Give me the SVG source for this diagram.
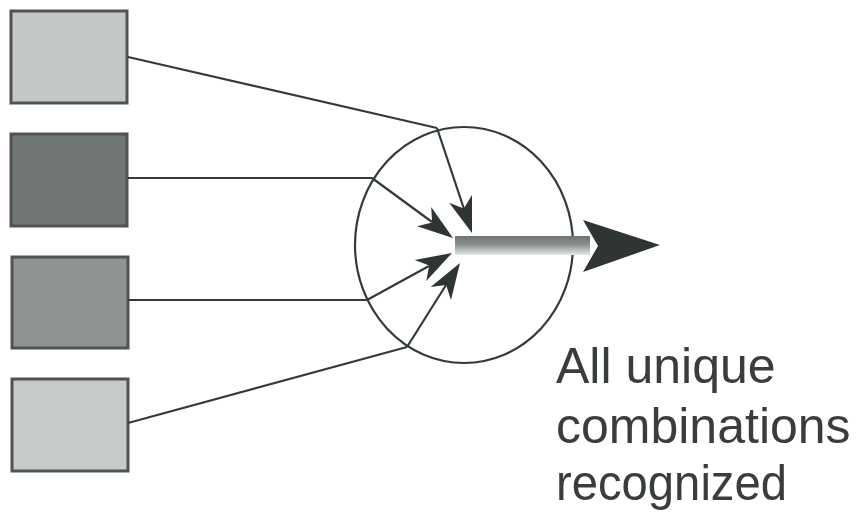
<svg xmlns="http://www.w3.org/2000/svg" width="859" height="514" viewBox="0 0 859 514">
<style>
.box{stroke:#4f5453;stroke-width:3}
.ln{stroke:#333a3a;stroke-width:2.2;fill:none}
.hd{fill:#2e3534}
.lbl{font-family:"Liberation Sans",Arial,sans-serif;font-size:50px;fill:#3a3d3d}
</style>
<defs>
<linearGradient id="shaft" x1="0" y1="0" x2="0" y2="1">
<stop offset="0" stop-color="#6d7371"/>
<stop offset="0.45" stop-color="#8b9190"/>
<stop offset="1" stop-color="#e4e8e8"/>
</linearGradient>
</defs>
<rect width="859" height="514" fill="#ffffff"/>
<g id="box1"><rect class="box" x="11" y="11" width="116" height="92" fill="#c3c7c7"/></g>
<g id="box2"><rect class="box" x="11" y="134" width="116" height="92" fill="#6f7674"/></g>
<g id="box3"><rect class="box" x="12" y="257" width="116" height="91" fill="#8f9393"/></g>
<g id="box4"><rect class="box" x="12" y="379" width="116" height="92" fill="#c6caca"/></g>
<g id="neuron"><ellipse cx="464" cy="245" rx="109" ry="118" fill="none" stroke="#333a3a" stroke-width="2.2"/></g>
<g id="connectors">
<line class="ln" x1="128" y1="57" x2="437" y2="128"/>
<line class="ln" x1="128" y1="178" x2="372" y2="178"/>
<line class="ln" x1="128" y1="300" x2="367" y2="300"/>
<line class="ln" x1="128" y1="423" x2="407" y2="347"/>
<path d="M437,128 L464,209" class="ln"/>
<path d="M472,233 L472,195.1 L463.8,208.4 L449.2,202.7 z" class="hd"/>
<path d="M372,178 L432,222" class="ln"/>
<path d="M453,238 L431.2,207 L432.1,222.5 L417,226.2 z" class="hd"/>
<path d="M367,300 L429,266" class="ln"/>
<path d="M452,253 L414.7,259.9 L429.2,265.6 L426.3,280.9 z" class="hd"/>
<path d="M407,347 L446,285" class="ln"/>
<path d="M460,263 L430.6,287.1 L446.1,285 L451,299.9 z" class="hd"/>
</g>
<g id="output">
<rect x="455" y="236" width="135" height="19" fill="url(#shaft)"/>
<path d="M583,220 L660,245 L583,272 L598,246 z" class="hd"/>
</g>
<g id="label">
<text class="lbl" x="556" y="383">All unique</text>
<text class="lbl" x="556" y="443">combinations</text>
<text class="lbl" x="556" y="500" textLength="231" lengthAdjust="spacingAndGlyphs">recognized</text>
</g>
</svg>
